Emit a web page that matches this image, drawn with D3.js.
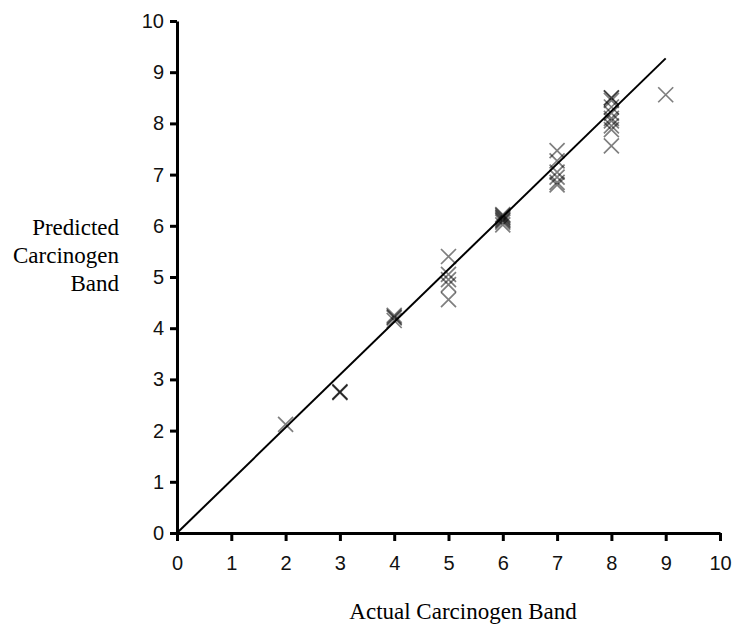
<!DOCTYPE html>
<html>
<head>
<meta charset="utf-8">
<script src="https://cdn.jsdelivr.net/npm/d3@7"></script>
<style>
  body { margin: 0; background: #fff; }
  .tick text { font-family: "Liberation Sans", Arial, sans-serif; font-size: 20px; fill: #111; }
  .title { font-family: "Liberation Serif", "Times New Roman", serif; font-size: 23px; fill: #000; }
</style>
</head>
<body>
<script>
// actual band (x) and predicted band (y) for every compound
let actual    = [2, 3, 3, 3, 4, 4, 4, 4, 5, 5, 5, 5, 5,
                 6, 6, 6, 6, 6, 6, 6, 6, 7, 7, 7, 7, 7, 7,
                 8, 8, 8, 8, 8, 8, 8, 8, 8, 8, 9];
let predicted = [2.12, 2.74, 2.76, 2.75, 4.15, 4.2, 4.25, 4.22, 5.4, 5.05, 4.95, 4.85, 4.56,
                 6.02, 6.07, 6.12, 6.17, 6.22, 6.1, 6.15, 6.2, 7.47, 7.27, 7.05, 6.95, 6.85, 6.8,
                 8.5, 8.5, 8.45, 8.32, 8.2, 8.1, 8.05, 7.95, 7.88, 7.56, 8.56];
// fitted line end points
let fitX = [0, 9];
let fitY = [0, 9.27];
let ticks = [0, 1, 2, 3, 4, 5, 6, 7, 8, 9, 10];
let yTitle = ["Predicted", "Carcinogen", "Band"];
let xTitle = "Actual Carcinogen Band";

let W = 736, H = 624;
let svg = d3.select("body").append("svg")
    .attr("width", W)
    .attr("height", H);

let x = d3.scaleLinear().domain([0, 10]).range([177, 720]);
let y = d3.scaleLinear().domain([0, 10]).range([533, 21]);

// axes
svg.append("g")
    .attr("transform", "translate(0," + y(0) + ")")
    .call(d3.axisBottom(x).tickValues(ticks).tickSize(8).tickPadding(15).tickSizeOuter(0));
svg.append("g")
    .attr("transform", "translate(" + x(0) + ",0)")
    .call(d3.axisLeft(y).tickValues(ticks).tickSize(7).tickPadding(6).tickSizeOuter(0));
svg.selectAll(".domain, .tick line")
    .attr("stroke", "#000")
    .attr("stroke-width", 3);

// regression line
svg.append("line")
    .attr("x1", x(fitX[0])).attr("y1", y(fitY[0]))
    .attr("x2", x(fitX[1])).attr("y2", y(fitY[1]))
    .attr("stroke", "#000")
    .attr("stroke-width", 2);

// cross markers
let s = 7.5;
let pts = actual.map(function (d, i) { return [d, predicted[i]]; });
svg.selectAll(".mark")
    .data(pts)
    .enter()
    .append("path")
    .attr("class", "mark")
    .attr("d", function (d) {
        let cx = x(d[0]), cy = y(d[1]);
        return "M" + (cx - s) + "," + (cy - s) + "L" + (cx + s) + "," + (cy + s) +
               "M" + (cx - s) + "," + (cy + s) + "L" + (cx + s) + "," + (cy - s);
    })
    .attr("stroke", "#000")
    .attr("stroke-opacity", 0.5)
    .attr("stroke-width", 1.7)
    .attr("fill", "none");

// titles
svg.selectAll(".ytitle")
    .data(yTitle)
    .enter()
    .append("text")
    .attr("class", "title")
    .attr("text-anchor", "end")
    .attr("x", 119)
    .attr("y", function (d, i) { return 235 + i * 28; })
    .text(function (d) { return d; });

svg.append("text")
    .attr("class", "title")
    .attr("text-anchor", "middle")
    .attr("x", 463)
    .attr("y", 619)
    .text(xTitle);
</script>
</body>
</html>
